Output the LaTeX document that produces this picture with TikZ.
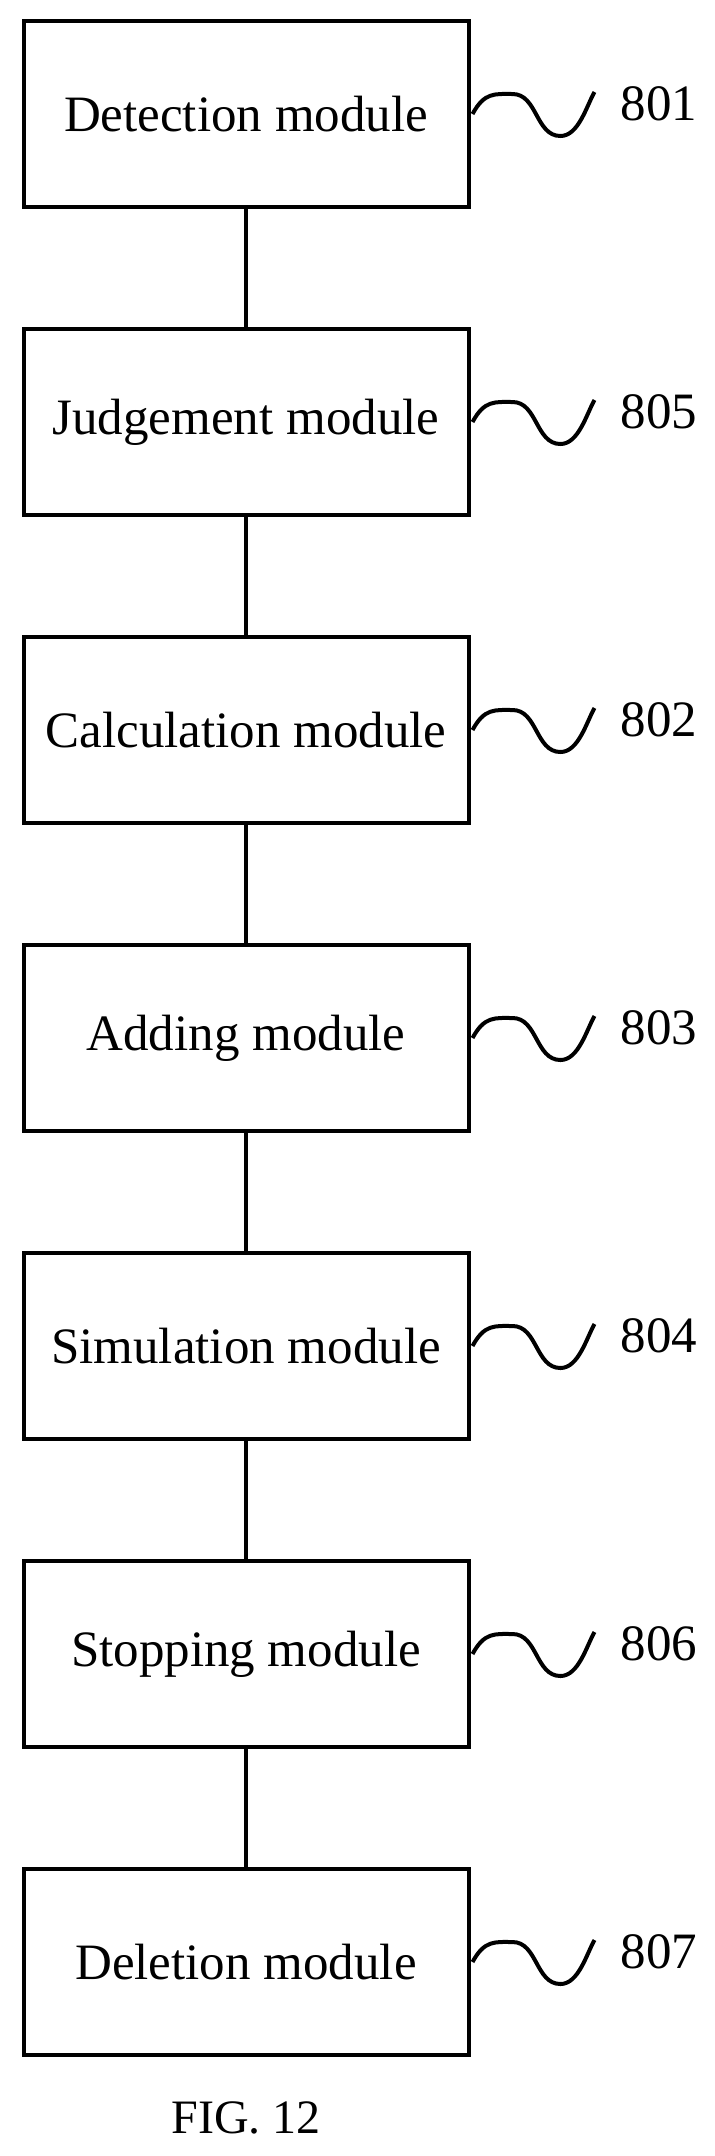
\documentclass[tikz,border=0pt]{standalone}
\usepackage{fontspec}
\setmainfont{Liberation Serif}
\usetikzlibrary{positioning}
\begin{document}
\begin{tikzpicture}[x=1pt,y=-1pt,
  module/.style={draw, line width=4pt, minimum width=445pt, minimum height=186pt,
    font=\fontsize{51}{60}\selectfont, inner sep=0pt},
  tag/.style={font=\fontsize{51}{60}\selectfont, anchor=west, inner sep=0pt},
  wave/.style={line width=4pt}
]
\useasboundingbox (0,0) rectangle (715,2156);
% modules
\node[module] (det) at (246,114) {Detection module};
\node[module, below=118pt of det] (jud) {Judgement module};
\node[module, below=118pt of jud] (cal) {Calculation module};
\node[module, below=118pt of cal] (add) {Adding module};
\node[module, below=118pt of add] (sim) {Simulation module};
\node[module, below=118pt of sim] (sto) {Stopping module};
\node[module, below=118pt of sto] (del) {Deletion module};
% connectors
\foreach \a/\b in {det/jud,jud/cal,cal/add,add/sim,sim/sto,sto/del}
  \draw[line width=4pt] (\a) -- (\b);
% reference numerals
\foreach \n/\t in {det/801,jud/805,cal/802,add/803,sim/804,sto/806,del/807}{
  \draw[wave] ([xshift=2pt]\n.east) .. controls +(12,-22) and +(-18,0) .. ++(40,-20)
    .. controls +(25,0) and +(-25,0) .. ++(48,42)
    .. controls +(18,0) and +(-8,14) .. ++(34,-44) coordinate (\n w);
  \node[tag] at ([xshift=26pt,yshift=-12pt]\n w) {\t};
}
\node[font=\fontsize{48}{56}\selectfont] (fig) at (246,2118) {FIG. 12};
\end{tikzpicture}
\end{document}
